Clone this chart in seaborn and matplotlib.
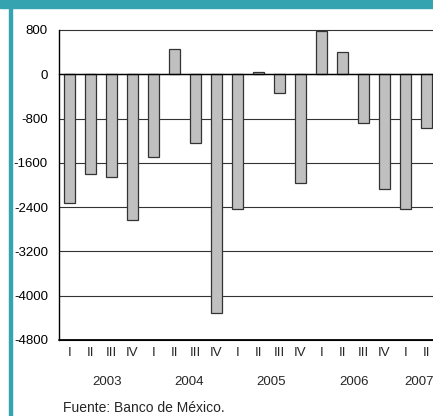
import numpy as np
import pandas as pd
import seaborn as sns
import matplotlib.pyplot as plt
from matplotlib.patches import Rectangle

# Datos trimestrales (lectura aproximada del gráfico)
years = ["2003", "2004", "2005", "2006", "2007"]
quarters = ["I", "II", "III", "IV"]
periodos = ["2003-I", "2003-II", "2003-III", "2003-IV",
            "2004-I", "2004-II", "2004-III", "2004-IV",
            "2005-I", "2005-II", "2005-III", "2005-IV",
            "2006-I", "2006-II", "2006-III", "2006-IV",
            "2007-I", "2007-II"]
valores = [-2320, -1800, -1850, -2630,
           -1490, 460, -1250, -4320,
           -2440, 40, -330, -1960,
           790, 400, -880, -2080,
           -2440, -970]
romanos = [p.split("-")[1] for p in periodos]
year_pos = [1.8, 5.7, 9.6, 13.55, 16.65]
yticks = [800, 0, -800, -1600, -2400, -3200, -4000, -4800]

teal = "#36A3B0"

sns.set_style("white")
plt.rcParams["font.family"] = ["Liberation Sans", "DejaVu Sans"]

df = pd.DataFrame({"periodo": periodos, "valor": valores})

fig = plt.figure(figsize=(4.33, 4.16), dpi=100)
W, H = 433, 416
ax = fig.add_axes([59 / W, (H - 340) / H, 378 / W, 310 / H])

sns.barplot(data=df, x="periodo", y="valor", order=periodos, color="#C0C0C0",
            saturation=1, width=0.57, edgecolor="#333333", linewidth=0.9, ax=ax)

ax.set_ylim(-4800, 800)
ax.set_xlim(-0.5, len(periodos) - 0.5)
ax.set_yticks(yticks)
ax.set_yticklabels([str(v) for v in yticks], fontsize=9.5)
ax.tick_params(axis="y", direction="out", length=3, width=0.8, pad=5, colors="black")
ax.set_xlabel("")
ax.set_ylabel("")

for v in yticks:
    ax.axhline(v, color="#333333", lw=0.8, zorder=0, clip_on=False)
ax.axhline(-4800, color="black", lw=1.3, zorder=3, clip_on=False)

# eje de categorias cruzando en cero
for s in ["top", "right"]:
    ax.spines[s].set_visible(False)
ax.spines["left"].set_color("black")
ax.spines["left"].set_linewidth(1.0)
ax.spines["bottom"].set_position(("data", 0))
ax.spines["bottom"].set_color("black")
ax.spines["bottom"].set_linewidth(1.0)
ax.spines["bottom"].set_zorder(4)
ax.set_xticks(range(len(periodos)))
ax.set_xticks(np.arange(-0.5, len(periodos), 1), minor=True)
ax.tick_params(axis="x", which="major", direction="in", length=2.5, width=0.8,
               labelbottom=False, colors="black")
ax.tick_params(axis="x", which="minor", direction="out", length=3, width=0.8,
               colors="black")

sec = ax.secondary_xaxis("bottom")
sec.set_xticks(range(len(periodos)), romanos, fontsize=9.5)
sec.tick_params(length=0, pad=5)
sec.spines["bottom"].set_visible(False)

sec2 = ax.secondary_xaxis("bottom")
sec2.set_xticks(year_pos, years, fontsize=9.5)
sec2.tick_params(length=0, pad=26)
sec2.spines["bottom"].set_visible(False)

fig.text(63 / W, 1 - 408 / H, "Fuente: Banco de México.", fontsize=10,
         va="center", ha="left")

# marco
fig.patches.append(Rectangle((0, 1 - 8 / H), 1, 8 / H, transform=fig.transFigure,
                             color=teal, zorder=10))
fig.patches.append(Rectangle((9 / W, 0), 2.5 / W, 1, transform=fig.transFigure,
                             color=teal, zorder=10))

fig.savefig("out.png", dpi=100)
